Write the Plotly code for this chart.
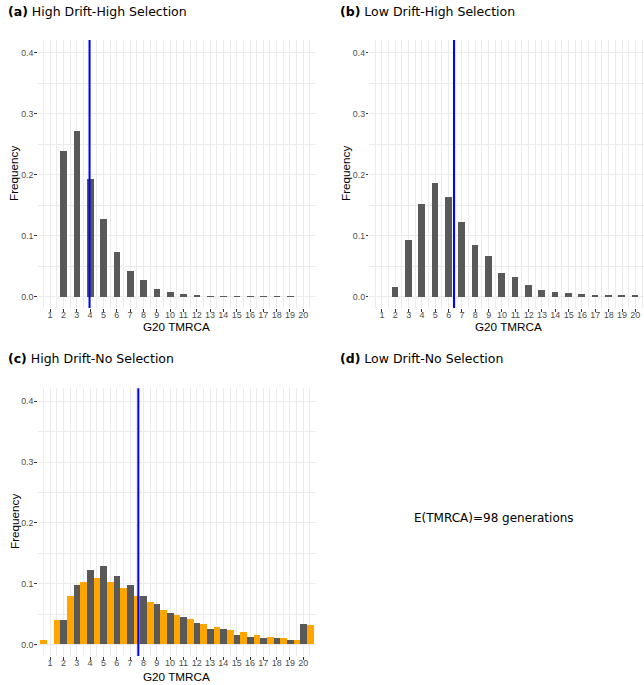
import plotly.graph_objects as go

# ---------------- data ----------------
categories = list(range(1, 21))
tick_labels = [str(c) for c in categories]

freq_a = [0.0, 0.239, 0.272, 0.193, 0.127, 0.073, 0.043, 0.027, 0.0125, 0.0076,
          0.0043, 0.0027, 0.001, 0.001, 0.001, 0.001, 0.001, 0.001, 0.001, 0.0]
freq_b = [0.0, 0.016, 0.093, 0.152, 0.186, 0.163, 0.122, 0.085, 0.067, 0.039,
          0.033, 0.019, 0.0114, 0.0082, 0.0065, 0.0049, 0.0033, 0.0016, 0.0027, 0.0033]
freq_c_gray = [0.0, 0.040, 0.097, 0.123, 0.128, 0.113, 0.097, 0.080, 0.066, 0.051,
               0.045, 0.036, 0.026, 0.025, 0.016, 0.013, 0.011, 0.011, 0.0066, 0.033]
orange_positions = [c - 0.5 for c in range(1, 22)]
freq_c_orange = [0.0066, 0.040, 0.079, 0.102, 0.109, 0.103, 0.093, 0.080, 0.069, 0.057,
                 0.049, 0.041, 0.033, 0.028, 0.023, 0.020, 0.016, 0.013, 0.011, 0.008, 0.032]
mean_tmrca = [3.96, 6.4, 7.62]

panel_titles = ["<b>(a)</b> High Drift-High Selection",
                "<b>(b)</b> Low Drift-High Selection",
                "<b>(c)</b> High Drift-No Selection",
                "<b>(d)</b> Low Drift-No Selection"]
x_title = "G20 TMRCA"
y_title = "Frequency"
d_text = "E(TMRCA)=98 generations"

# ---------------- styling ----------------
W, H = 644, 685
GRAY = "#595959"
ORANGE = "#FFA500"
GRID = "#EBEBEB"
XTICKFONT = dict(family="Liberation Sans, Arial, sans-serif", size=9, color="#4D4D4D")
YTICKFONT = dict(family="Liberation Sans, Arial, sans-serif", size=8.8, color="#4D4D4D")
TITLEFONT = dict(family="Liberation Sans, Arial, sans-serif", size=11.7, color="black")
HEADFONT = dict(family="DejaVu Sans, sans-serif", size=12.5, color="black")


def px_x(p):
    return p / W


def px_y(p):
    return 1 - p / H


fig = go.Figure()

bar_kw = dict(width=0.5, marker_line_width=0, showlegend=False, hoverinfo="x+y")
fig.add_trace(go.Bar(x=categories, y=freq_a, marker_color=GRAY, xaxis="x", yaxis="y", **bar_kw))
fig.add_trace(go.Bar(x=categories, y=freq_b, marker_color=GRAY, xaxis="x2", yaxis="y2", **bar_kw))
fig.add_trace(go.Bar(x=categories, y=freq_c_gray, marker_color=GRAY, xaxis="x3", yaxis="y3", **bar_kw))
fig.add_trace(go.Bar(x=orange_positions, y=freq_c_orange, marker_color=ORANGE, xaxis="x3", yaxis="y3", **bar_kw))

panels = [
    # (xaxis name, yaxis name, x domain px, y domain px, x range, ytitle px, xtitle px)
    ("xaxis", "yaxis", (37.7, 315.7), (40, 308), (0.07, 20.93), (14, 174), (176.7, 326.5)),
    ("xaxis2", "yaxis2", (369.3, 644), (40, 308), (0.05, 20.65), (346, 174), (508.5, 326.5)),
    ("xaxis3", "yaxis3", (37.7, 315.7), (388.3, 656), (0.07, 20.93), (14, 522), (176.7, 676.5)),
]

layout = dict(
    width=W, height=H,
    margin=dict(l=0, r=0, t=0, b=0, autoexpand=False),
    paper_bgcolor="white", plot_bgcolor="white",
    barmode="overlay", bargap=0,
    showlegend=False,
)

annotations = []
for i, (xa, ya, xd, yd, xr, ytp, xtp) in enumerate(panels):
    anchor_x = "x" if i == 0 else f"x{i+1}"
    anchor_y = "y" if i == 0 else f"y{i+1}"
    layout[xa] = dict(
        domain=[px_x(xd[0]), px_x(xd[1])], range=list(xr), anchor=anchor_y,
        automargin=False,
        tickmode="array", tickvals=categories, ticktext=tick_labels,
        ticks="outside", ticklen=2.5, tickwidth=1, tickcolor="#333333",
        ticklabelstandoff=-4,
        tickfont=XTICKFONT, showgrid=True, gridcolor=GRID, gridwidth=1,
        minor=dict(tickmode="linear", tick0=0.5, dtick=1, showgrid=True,
                   gridcolor=GRID, gridwidth=0.6, ticks=""),
        zeroline=False, showline=False, fixedrange=True,
    )
    layout[ya] = dict(
        domain=[px_y(yd[1]), px_y(yd[0])], range=[-0.0185, 0.421], anchor=anchor_x,
        automargin=False,
        tickmode="array", tickvals=[0.0, 0.1, 0.2, 0.3, 0.4],
        ticktext=["0.0", "0.1", "0.2", "0.3", "0.4"],
        ticks="outside", ticklen=2.5, tickwidth=1, tickcolor="#333333",
        ticklabelstandoff=-1,
        tickfont=YTICKFONT, showgrid=True, gridcolor=GRID, gridwidth=1,
        minor=dict(tickmode="linear", tick0=0.05, dtick=0.1, showgrid=True,
                   gridcolor=GRID, gridwidth=0.6, ticks=""),
        zeroline=False, showline=False, fixedrange=True,
    )
    annotations.append(dict(text=y_title, x=px_x(ytp[0]), y=px_y(ytp[1]), xref="paper", yref="paper",
                            xanchor="center", yanchor="middle", textangle=-90, showarrow=False,
                            font=TITLEFONT))
    annotations.append(dict(text=x_title, x=px_x(xtp[0]), y=px_y(xtp[1]), xref="paper", yref="paper",
                            xanchor="center", yanchor="middle", showarrow=False, font=TITLEFONT))

fig.update_layout(**layout)

# mean lines
shapes = []
for i, m in enumerate(mean_tmrca):
    xr = "x" if i == 0 else f"x{i+1}"
    yr = "y domain" if i == 0 else f"y{i+1} domain"
    shapes.append(dict(type="line", xref=xr, yref=yr, x0=m, x1=m, y0=0, y1=1,
                       line=dict(color="#0000FF", width=2), layer="above"))
fig.update_layout(shapes=shapes)

# panel titles
title_pos = [(6, 11), (338, 11), (6, 358), (338, 358)]
for t, (px, py) in zip(panel_titles, title_pos):
    annotations.append(dict(text=t, x=px_x(px), y=px_y(py), xref="paper", yref="paper",
                            xanchor="left", yanchor="middle", showarrow=False, font=HEADFONT))
annotations.append(dict(text=d_text, x=px_x(494), y=px_y(518), xref="paper", yref="paper",
                        xanchor="center", yanchor="middle", showarrow=False,
                        font=dict(family="DejaVu Sans, sans-serif", size=12, color="black")))
fig.update_layout(annotations=annotations)

fig.write_html("out.html", config={"displayModeBar": False},
               post_script="document.body.style.margin='0px';document.body.style.padding='0px';")
